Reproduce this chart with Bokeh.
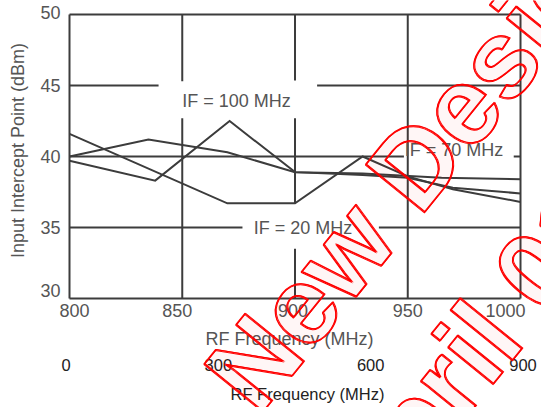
from bokeh.plotting import figure
from bokeh.models import Range1d
from bokeh.core.properties import value
from bokeh.embed import file_html
from bokeh.resources import INLINE

# ---------------- data ----------------
if20_freq = [800, 870, 900, 930, 950, 970, 1000]
if20_iip3 = [41.6, 36.7, 36.7, 40.0, 38.6, 37.7, 36.8]

if70_freq = [800, 835, 870, 900, 930, 965, 1000]
if70_iip3 = [40.0, 41.2, 40.3, 38.9, 38.8, 38.5, 38.4]

if100_freq = [800, 838, 871, 900, 930, 950, 970, 1000]
if100_iip3 = [39.7, 38.3, 42.5, 38.9, 38.7, 38.5, 37.8, 37.4]

rf_ticks = [800, 850, 900, 950, 1000]
iip_ticks = [30, 35, 40, 45, 50]
outer_ticks = [0, 300, 600, 900]
curve_names = ["IF = 20 MHz", "IF = 70 MHz", "IF = 100 MHz"]

inner_x_title = "RF Frequency (MHz)"
inner_y_title = "Input Intercept Point (dBm)"
outer_x_title = "RF Frequency (MHz)"
watermark_lines = ["New Designs", "April 01"]

# ---------------- layout / style ----------------
FONT = "Liberation Sans"
INK = "#3c3c3c"
TXT = "#555555"

p = figure(width=541, height=407,
           x_range=Range1d(769.40, 1009.31), y_range=Range1d(22.32, 50.99),
           output_backend="svg", toolbar_location=None,
           x_axis_location=None, y_axis_location=None,
           min_border_left=0, min_border_right=0,
           min_border_top=0, min_border_bottom=0)
p.outline_line_color = None
p.grid.visible = False
p.background_fill_color = "white"
p.border_fill_color = "white"

# outer frequency scale (0..900 MHz) shares the frame
p.extra_x_ranges = {"outer": Range1d(-129.0, 936.4)}

# inner frame
x0, x1 = rf_ticks[0], rf_ticks[-1]
y0, y1 = iip_ticks[0], iip_ticks[-1]
p.segment(x0=[x0, x1, x0, x0], y0=[y0, y0, y0, y1],
          x1=[x0, x1, x1, x1], y1=[y1, y1, y0, y1],
          line_color=INK, line_width=2)

# inner grid lines, broken around the in-chart labels
h_pieces = {45: [(800, 839.5), (909.8, 1000)],
            40: [(800, 948.3), (997.0, 1000)],
            35: [(800, 876.7), (937.2, 1000)]}
v_pieces = {850: [(45.3, 50), (30, 42.7)],
            900: [(45.35, 50), (36.7, 42.7), (30, 33.5)],
            950: [(30, 50)]}
gx0, gy0, gx1, gy1 = [], [], [], []
for yv, parts in h_pieces.items():
    for a, b in parts:
        gx0.append(a); gx1.append(b); gy0.append(yv); gy1.append(yv)
for xv, parts in v_pieces.items():
    for a, b in parts:
        gx0.append(xv); gx1.append(xv); gy0.append(a); gy1.append(b)
p.segment(x0=gx0, y0=gy0, x1=gx1, y1=gy1, line_color=INK, line_width=2)

# curves
for fx, fy in [(if20_freq, if20_iip3), (if70_freq, if70_iip3), (if100_freq, if100_iip3)]:
    p.line(fx, fy, line_color=INK, line_width=2, line_join="miter")

txt_kw = dict(text_font=value(FONT), text_font_size=value("18px"), text_color=TXT,
              text_align="center", text_baseline="middle")

# curve labels
p.text(x=[903.5, 970.5, 874.1], y=[34.96, 40.46, 43.94], text=curve_names, **txt_kw)

# inner y tick labels and title
p.text(x=[796.0] * len(iip_ticks), y=iip_ticks, text=[str(t) for t in iip_ticks],
       y_offset=[-8, 0, 0, 0, -2],
       text_font=value(FONT), text_font_size=value("18px"), text_color=TXT,
       text_align="right", text_baseline="middle")
p.text(x=[776.94], y=[40.42], text=[inner_y_title], angle=90, angle_units="deg", **txt_kw)

# inner x tick labels and title
p.text(x=rf_ticks, y=[29.155] * len(rf_ticks), text=[str(t) for t in rf_ticks],
       x_offset=[5, -5, -2, 0, -15], **txt_kw)
p.text(x=[897.6], y=[27.18], text=[inner_x_title], **txt_kw)

# outer scale labels and title
out_kw = dict(text_font=value(FONT), text_font_size=value("16.5px"), text_color="#222222",
              text_align="center", text_baseline="middle", x_range_name="outer")
p.text(x=outer_ticks, y=[25.28] * len(outer_ticks), text=[str(t) for t in outer_ticks], **out_kw)
p.text(x=[475.6], y=[23.24], text=[outer_x_title], **out_kw)

# watermark (outlined red text, drawn with small offsets to thicken the outline)
wm_x = [965.99, 975.84]
wm_y = [42.10, 25.96]
for dx, dy in [(0, 0), (1, 0), (0, 1)]:
    p.text(x=wm_x, y=wm_y, text=watermark_lines, angle=51, angle_units="deg",
           x_offset=dx, y_offset=dy,
           text_align="center", text_baseline="alphabetic",
           text_font=value(FONT), text_font_style="bold", text_font_size=value("110px"),
           text_color="rgba(255,0,0,0.01)", text_outline_color="red")

open("out.html", "w").write(file_html(p, INLINE))
